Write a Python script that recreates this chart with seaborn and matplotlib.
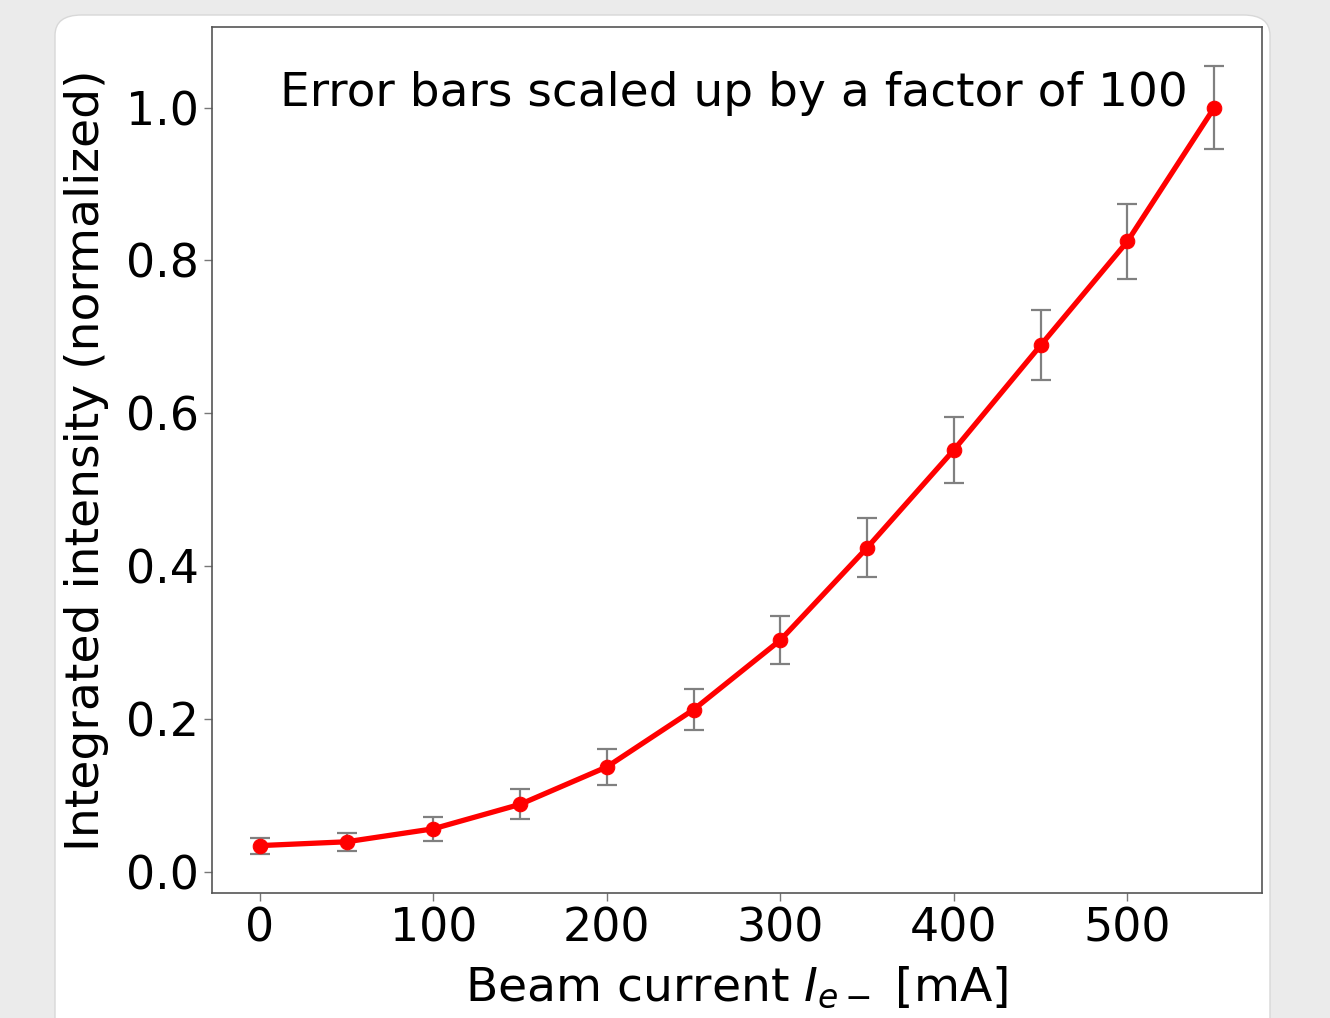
import numpy as np
import pandas as pd
import matplotlib
matplotlib.use("Agg")
import matplotlib.pyplot as plt
from matplotlib.patches import FancyBboxPatch
import seaborn as sns

# Data
beam_current = [0, 50, 100, 150, 200, 250, 300, 350, 400, 450, 500, 550]
intensity = [0.034, 0.039, 0.056, 0.088, 0.137, 0.212, 0.303, 0.424, 0.552, 0.689, 0.825, 1.000]
errors_scaled = [0.0105, 0.012, 0.016, 0.0196, 0.024, 0.027, 0.031, 0.039, 0.043, 0.046, 0.049, 0.054]

df = pd.DataFrame({"current": beam_current, "intensity": intensity, "err": errors_scaled})

sns.set_style("white")
plt.rcParams['font.family'] = ['DejaVu Sans']
plt.rcParams['text.color'] = 'black'
plt.rcParams['axes.labelcolor'] = 'black'

fig = plt.figure(figsize=(13.3, 10.18), dpi=100)
fig.patch.set_facecolor("#ebebeb")

card = FancyBboxPatch((55 / 1330, -0.05), 1215 / 1330, 1.05 - 15 / 1018,
                      boxstyle="round,pad=0,rounding_size=0.02",
                      transform=fig.transFigure, facecolor="white",
                      edgecolor="#d8d8d8", linewidth=1.0, zorder=-10)
fig.patches.append(card)

ax = fig.add_axes([212 / 1330, 1 - 893 / 1018, 1050 / 1330, 866 / 1018], zorder=1)
ax.set_facecolor("white")

ax.errorbar(df["current"], df["intensity"], yerr=df["err"], fmt="none",
            ecolor="gray", elinewidth=1.6, capsize=7, capthick=1.6, zorder=1)
sns.lineplot(data=df, x="current", y="intensity", ax=ax, color="red",
             linewidth=3.8, marker="o", markersize=10.5, markeredgecolor="red",
             zorder=3)

ax.set_xlabel(r"Beam current $I_{e-}$ [mA]", fontsize=34, color="black", labelpad=10)
ax.set_ylabel("Integrated intensity (normalized)", fontsize=34, color="black", labelpad=12)
ax.tick_params(axis="both", labelsize=33, length=6, width=1, color="#777777",
               labelcolor="black", direction="out", bottom=True, left=True)
ax.set_xticks([0, 100, 200, 300, 400, 500])
ax.set_yticks([0.0, 0.2, 0.4, 0.6, 0.8, 1.0])
ax.yaxis.set_major_formatter(matplotlib.ticker.FormatStrFormatter("%.1f"))
for s in ax.spines.values():
    s.set_color("#555555")
    s.set_linewidth(1.2)

ax.text((1188 - 212) / 1050, (893 - 93) / 866, "Error bars scaled up by a factor of 100",
        transform=ax.transAxes, ha="right", va="center", fontsize=33.8, color="black")

fig.savefig("out.png", dpi=100, facecolor=fig.get_facecolor())
